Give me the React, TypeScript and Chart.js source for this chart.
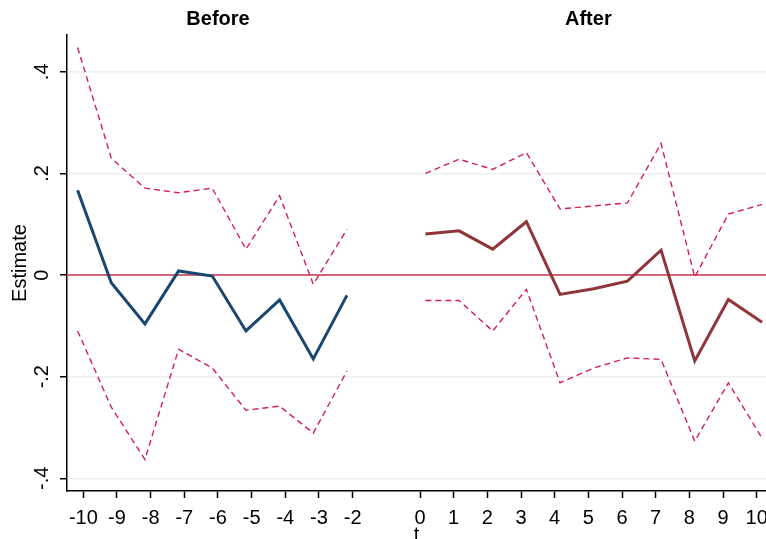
import React, { useEffect, useRef } from 'react';
import { Chart, registerables } from 'chart.js';

Chart.register(...registerables);

// ---- data ----
const T_BEFORE = [-10, -9, -8, -7, -6, -5, -4, -3, -2];
const EST_BEFORE = [0.167, -0.015, -0.096, 0.008, -0.002, -0.11, -0.049, -0.165, -0.04];
const UPPER_BEFORE = [0.448, 0.23, 0.171, 0.162, 0.171, 0.051, 0.156, -0.018, 0.09];
const LOWER_BEFORE = [-0.11, -0.26, -0.363, -0.146, -0.183, -0.266, -0.258, -0.311, -0.189];

const T_AFTER = [0, 1, 2, 3, 4, 5, 6, 7, 8, 9, 10];
const EST_AFTER = [0.081, 0.087, 0.051, 0.105, -0.038, -0.027, -0.012, 0.049, -0.169, -0.048, -0.093];
const UPPER_AFTER = [0.2, 0.228, 0.208, 0.241, 0.13, 0.136, 0.142, 0.259, -0.004, 0.12, 0.139];
const LOWER_AFTER = [-0.05, -0.05, -0.11, -0.028, -0.212, -0.183, -0.163, -0.166, -0.327, -0.212, -0.321];

const X_TICKS = [-10, -9, -8, -7, -6, -5, -4, -3, -2, 0, 1, 2, 3, 4, 5, 6, 7, 8, 9, 10];
const Y_TICKS = [-0.4, -0.2, 0, 0.2, 0.4];
const Y_TICK_LABELS = ['-.4', '-.2', '0', '.2', '.4'];
const PANEL_TITLES = ['Before', 'After'];
const PANEL_CENTERS = [-6, 5];

// ---- layout / style ----
const X_MIN = -10.485;
const X_MAX = 10.277;
const Y_MIN = -0.425;
const Y_MAX = 0.4725;
const BEFORE_SHIFT = -0.17;
const AFTER_SHIFT = 0.16;
const FONT = "'Liberation Sans', Arial, sans-serif";
const NAVY = '#1a476f';
const MAROON = '#8f353c';
const CI_RED = '#d3204b';
const ZERO_RED = '#c8344c';
const GRID = '#e9eff2';

const pts = (ts: number[], vs: number[], shift: number) => ts.map((t, i) => ({ x: t + shift, y: vs[i] }));

const overlay = {
  id: 'overlay',
  beforeDatasetsDraw(chart: any) {
    const { ctx, chartArea, scales } = chart;
    const y0 = scales.y.getPixelForValue(0);
    ctx.save();
    ctx.strokeStyle = ZERO_RED;
    ctx.lineWidth = 1.5;
    ctx.beginPath();
    ctx.moveTo(chartArea.left, y0);
    ctx.lineTo(chartArea.right, y0);
    ctx.stroke();
    ctx.restore();
  },
  afterDraw(chart: any) {
    const { ctx, scales } = chart;
    ctx.save();
    ctx.fillStyle = '#000';
    ctx.font = `20px ${FONT}`;
    ctx.textAlign = 'center';
    ctx.textBaseline = 'alphabetic';
    Y_TICKS.forEach((v, i) => {
      const y = scales.y.getPixelForValue(v);
      ctx.save();
      ctx.translate(48, y);
      ctx.rotate(-Math.PI / 2);
      ctx.fillText(Y_TICK_LABELS[i], 0, 0);
      ctx.restore();
    });
    ctx.font = `bold 20px ${FONT}`;
    PANEL_TITLES.forEach((t, i) => {
      const x = scales.x.getPixelForValue(PANEL_CENTERS[i]);
      ctx.fillText(t, x, 25);
    });
    ctx.restore();
  },
};

export default function App() {
  const ref = useRef<HTMLCanvasElement>(null);
  useEffect(() => {
    document.body.style.margin = '0';
    const canvas = ref.current!;
    const ci = (data: any, color: string) => ({
      data,
      borderColor: color,
      borderWidth: 1.4,
      borderDash: [6, 4],
      pointRadius: 0,
      fill: false,
      tension: 0,
    });
    const chart = new Chart(canvas, {
      type: 'line',
      data: {
        datasets: [
          ci(pts(T_BEFORE, UPPER_BEFORE, BEFORE_SHIFT), CI_RED),
          ci(pts(T_BEFORE, LOWER_BEFORE, BEFORE_SHIFT), CI_RED),
          ci(pts(T_AFTER, UPPER_AFTER, AFTER_SHIFT), CI_RED),
          ci(pts(T_AFTER, LOWER_AFTER, AFTER_SHIFT), CI_RED),
          {
            data: pts(T_BEFORE, EST_BEFORE, BEFORE_SHIFT),
            borderColor: NAVY,
            borderWidth: 3,
            pointRadius: 0,
            fill: false,
            tension: 0,
          },
          {
            data: pts(T_AFTER, EST_AFTER, AFTER_SHIFT),
            borderColor: MAROON,
            borderWidth: 3,
            pointRadius: 0,
            fill: false,
            tension: 0,
          },
        ],
      },
      options: {
        responsive: false,
        animation: false,
        events: [],
        layout: { padding: { top: 35, left: 0, right: 0, bottom: 0 } },
        plugins: { legend: { display: false }, tooltip: { enabled: false } },
        scales: {
          x: {
            type: 'linear',
            min: X_MIN,
            max: X_MAX,
            afterBuildTicks: (s: any) => {
              s.ticks = X_TICKS.map((v) => ({ value: v }));
            },
            afterFit: (s: any) => {
              s.height = 48;
              s.paddingLeft = 0;
              s.paddingRight = 0;
            },
            grid: { drawOnChartArea: false, drawTicks: true, tickLength: 7, tickColor: '#000', tickWidth: 1.5 },
            border: { color: '#000', width: 1.5 },
            ticks: {
              autoSkip: false,
              maxRotation: 0,
              minRotation: 0,
              padding: 8,
              color: '#000',
              font: { family: FONT, size: 20 },
              callback: (v: any) => String(v),
            },
            title: {
              display: true,
              text: 't',
              color: '#000',
              font: { family: FONT, size: 20 },
              padding: { top: 0, bottom: -8 },
            },
          },
          y: {
            type: 'linear',
            min: Y_MIN,
            max: Y_MAX,
            afterBuildTicks: (s: any) => {
              s.ticks = Y_TICKS.map((v) => ({ value: v }));
            },
            afterFit: (s: any) => {
              s.width = 67;
              s.paddingTop = 0;
              s.paddingBottom = 0;
            },
            grid: { color: GRID, lineWidth: 1.5, drawTicks: true, tickLength: 7, tickColor: '#000', tickWidth: 1.5 },
            border: { color: '#000', width: 1.5 },
            ticks: { display: false },
            title: {
              display: true,
              text: 'Estimate',
              color: '#000',
              font: { family: FONT, size: 20 },
              padding: { top: 8, bottom: 0 },
            },
          },
        },
      },
      plugins: [overlay],
    } as any);
    return () => chart.destroy();
  }, []);
  return (
    <div style={{ width: 766, height: 539 }}>
      <canvas ref={ref} width={766} height={539} style={{ display: 'block' }} />
    </div>
  );
}
